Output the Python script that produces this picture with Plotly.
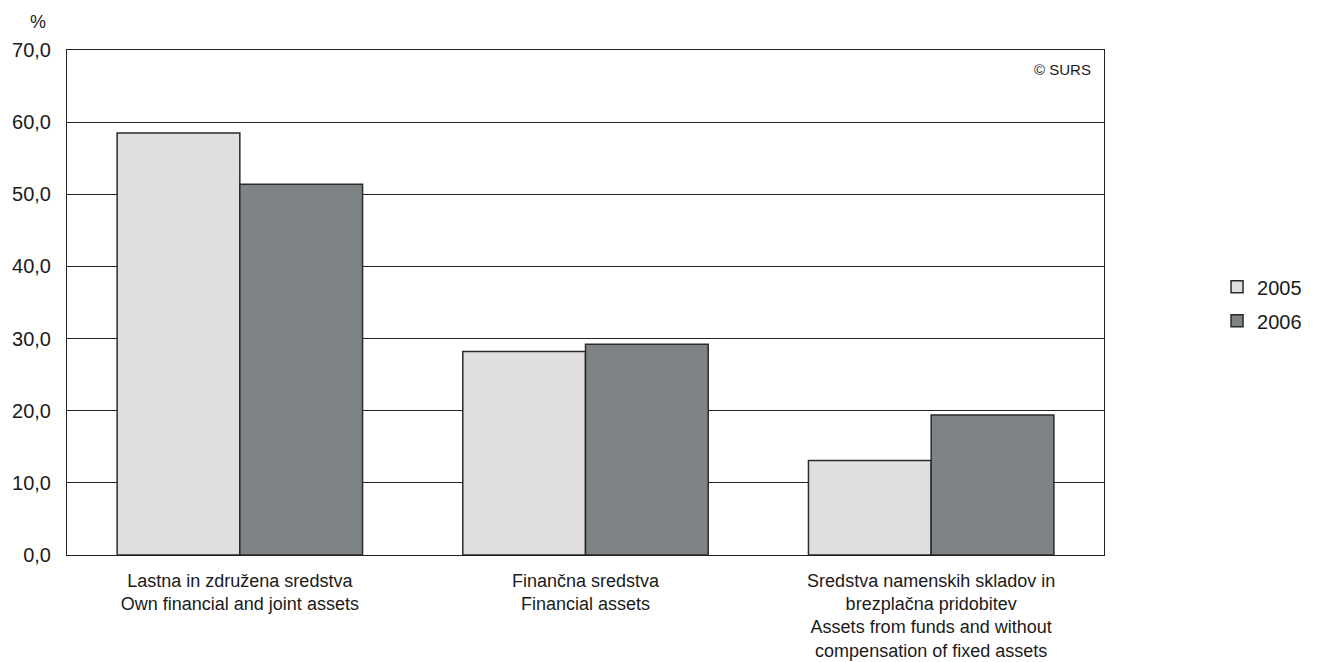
import plotly.graph_objects as go

categories = [
    "Lastna in združena sredstva<br>Own financial and joint assets",
    "Finančna sredstva<br>Financial assets",
    "Sredstva namenskih skladov in<br>brezplačna pridobitev<br>Assets from funds and without<br>compensation of fixed assets",
]
series_names = ["2005", "2006"]
values_2005 = [58.5, 28.2, 13.1]
values_2006 = [51.4, 29.2, 19.4]
y_ticks = [0, 10, 20, 30, 40, 50, 60, 70]

colors = ["#dfdfdd", "#7e8486"]

fig = go.Figure()
for name, vals, col in zip(series_names, [values_2005, values_2006], colors):
    fig.add_trace(go.Bar(
        x=categories, y=vals, name=name, legendgroup=name,
        marker=dict(color=col, line=dict(color="#2a2a2a", width=1.5)),
    ))

fig.update_layout(
    width=1321, height=662,
    margin=dict(l=59, r=225, t=42, b=114.5),
    paper_bgcolor="white", plot_bgcolor="white",
    barmode="group", bargap=0.29, bargroupgap=0,
    separators=",.",
    font=dict(family="Liberation Sans, Arial, sans-serif", size=20, color="#1a1a1a"),
    showlegend=True,
    legend=dict(x=1.109, y=0.4975, xanchor="left", yanchor="middle",
                font=dict(size=20), tracegroupgap=5),
    annotations=[
        dict(text="%", xref="paper", yref="paper", x=-0.028, y=1.0554,
             xanchor="center", yanchor="middle", showarrow=False, font=dict(size=18)),
        dict(text="© SURS", xref="paper", yref="paper", x=0.9894, y=0.9604,
             xanchor="right", yanchor="middle", showarrow=False, font=dict(size=15)),
    ],
)
fig.update_yaxes(
    range=[0, 70], tickvals=y_ticks, tickformat=".1f",
    showgrid=True, gridcolor="#222222", gridwidth=1,
    showline=True, linecolor="#222222", linewidth=1, mirror=True,
    ticks="", zeroline=False, ticklabelstandoff=11, automargin=False,
)
fig.update_xaxes(
    showline=True, linecolor="#222222", linewidth=1, mirror=True,
    ticks="", showgrid=False, ticklabelstandoff=9, tickfont=dict(size=18),
    automargin=False,
)

fig.write_html("out.html")
